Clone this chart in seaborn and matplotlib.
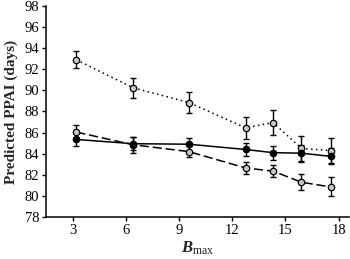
import numpy as np
import pandas as pd
import matplotlib
matplotlib.use('Agg')
import matplotlib.pyplot as plt
import seaborn as sns

## Data
bmax        = [3.2, 6.4, 9.55, 12.75, 14.3, 15.9, 17.55]
dotted_y    = [92.9, 90.25, 88.85, 86.45, 86.95, 84.5, 84.3]
dotted_err  = [0.8, 0.95, 1.0, 1.05, 1.15, 1.15, 1.2]
dashed_y    = [86.05, 84.85, 84.2, 82.65, 82.35, 81.3, 80.85]
dashed_err  = [0.7, 0.75, 0.55, 0.55, 0.6, 0.75, 0.9]
solid_y     = [85.35, 84.95, 84.9, 84.4, 84.1, 84.05, 83.75]
solid_err   = [0.65, 0.6, 0.6, 0.65, 0.65, 0.8, 0.75]
xticks      = [3, 6, 9, 12, 15, 18]
yticks      = [78, 80, 82, 84, 86, 88, 90, 92, 94, 96, 98]

sns.set_style('white')
plt.rcParams['font.family'] = ['Liberation Serif', 'DejaVu Serif']
plt.rcParams['mathtext.fontset'] = 'custom'
plt.rcParams['mathtext.rm'] = 'Liberation Serif'
plt.rcParams['mathtext.it'] = 'Liberation Serif:italic'
plt.rcParams['mathtext.bf'] = 'Liberation Serif:bold'
plt.rcParams['mathtext.bfit'] = 'Liberation Serif:bold:italic'

series = [
    (dotted_y, dotted_err, (0, (1, 2.2)), '#c8c8c8'),
    (dashed_y, dashed_err, (0, (6, 2.5)), '#c8c8c8'),
    (solid_y,  solid_err,  '-',           'black'),
]

fig = plt.figure(figsize=(3.5, 2.59), dpi=100)
ax = fig.add_axes([0.132, 0.162, 0.866, 0.815])

for yv, ev, ls, fc in series:
    df = pd.DataFrame({'x': bmax, 'y': yv})
    ax.errorbar(bmax, yv, yerr=ev, fmt='none', ecolor='black',
                elinewidth=1.0, capsize=2, capthick=1.0, zorder=2)
    sns.lineplot(data=df, x='x', y='y', ax=ax, color='black', linestyle=ls,
                 linewidth=1.1, marker='o', markersize=4.6,
                 markerfacecolor=fc, markeredgecolor='black',
                 markeredgewidth=0.9, zorder=3)

## Axes customization
ax.set_xlim(1.5, 18.6)
ax.set_ylim(78, 98)
ax.set_xticks(xticks)
ax.set_yticks(yticks)
ax.tick_params(axis='both', direction='out', length=3, width=1,
               labelsize=10.5, colors='black', pad=2, left=True, bottom=True)
for side in ['top', 'right']:
    ax.spines[side].set_visible(False)
for side in ['left', 'bottom']:
    ax.spines[side].set_color('black')
    ax.spines[side].set_linewidth(1.1)

ax.set_ylabel('Predicted PPAI (days)', fontsize=11, fontweight='bold', labelpad=5)
ax.set_xlabel(r'$\boldsymbol{B}_{\mathrm{max}}$', fontsize=12, labelpad=2)

fig.savefig('out.png', dpi=100)
